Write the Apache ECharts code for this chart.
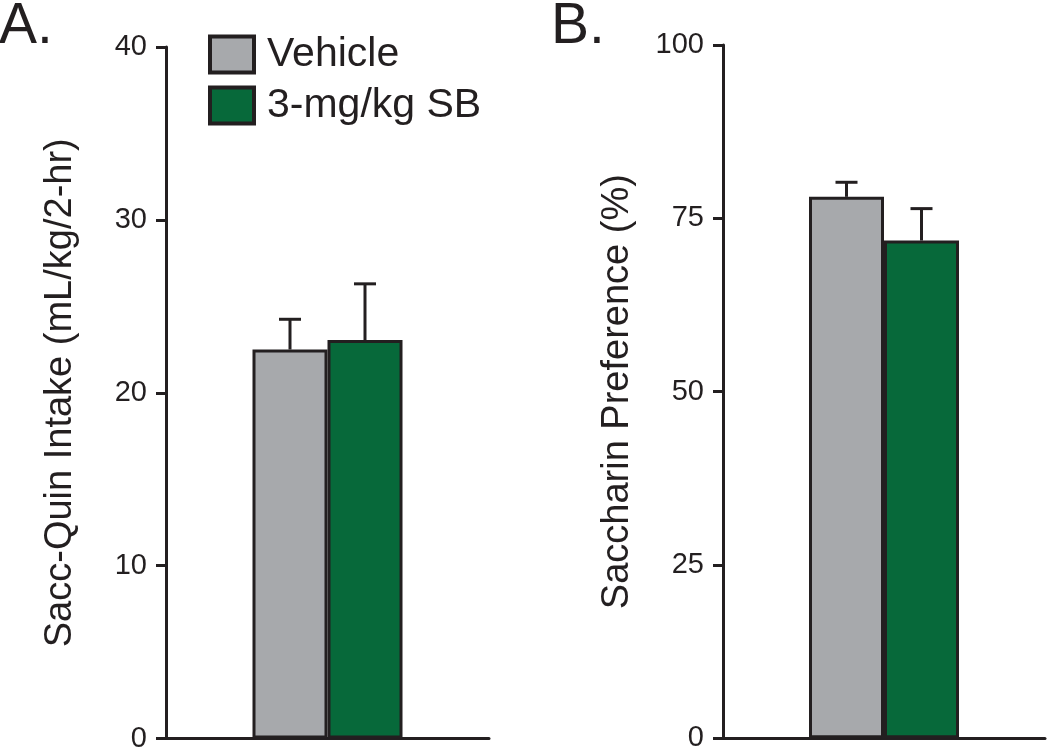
<!DOCTYPE html>
<html>
<head>
<meta charset="utf-8">
<script src="https://cdn.jsdelivr.net/npm/echarts@6/dist/echarts.min.js"></script>
<style>
html,body{margin:0;padding:0;background:#fff;}
#chart{width:1050px;height:753px;}
</style>
</head>
<body>
<div id="chart"></div>
<script>
// ---- data ----
const categories = [''];
const seriesNames = ['Vehicle', '3-mg/kg SB'];
// Panel A: Sacc-Quin intake (mL/kg/2-hr)
const intakeVehicle = [22.5];
const intakeVehicleSEM = [1.75];
const intakeSB = [23.05];
const intakeSBSEM = [3.25];
// Panel B: Saccharin preference (%)
const prefVehicle = [78.1];
const prefVehicleSEM = [2.1];
const prefSB = [71.8];
const prefSBSEM = [4.6];
const intakeTicks = {min: 0, max: 40, interval: 10};
const prefTicks = {min: 0, max: 100, interval: 25};

// ---- style ----
const FONT = 'Liberation Sans, Arial, Helvetica, sans-serif';
const INK = '#231f20';
const GRAY = '#a7a9ac';
const GREEN = '#07693a';
const BAR_W = 75;

const chart = echarts.init(document.getElementById('chart'), null, {renderer: 'canvas'});

function yAxis(gridIndex, ticks, name) {
  return {
    type: 'value', gridIndex: gridIndex,
    min: ticks.min, max: ticks.max, interval: ticks.interval,
    name: name, nameLocation: 'middle', nameGap: 86,
    nameTextStyle: {fontFamily: FONT, fontSize: 38, color: INK},
    axisLine: {show: true, lineStyle: {color: INK, width: 3}},
    axisTick: {show: true, length: 10, lineStyle: {color: INK, width: 3}},
    axisLabel: {fontFamily: FONT, fontSize: 29, color: INK, margin: 19},
    splitLine: {show: false}
  };
}
function xAxis(gridIndex) {
  return {
    type: 'category', gridIndex: gridIndex, data: categories,
    axisLine: {show: true, lineStyle: {color: INK, width: 3}},
    axisTick: {show: false}, axisLabel: {show: false}, splitLine: {show: false}
  };
}
function bar(name, data, color, axisIdx) {
  return {
    name: name, type: 'bar', xAxisIndex: axisIdx, yAxisIndex: axisIdx,
    data: data, barWidth: BAR_W, barGap: '0%',
    itemStyle: {color: color, borderColor: INK, borderWidth: 3},
    emphasis: {disabled: true}, z: 2
  };
}
function errBar(means, sems, offset, axisIdx) {
  return {
    type: 'custom', xAxisIndex: axisIdx, yAxisIndex: axisIdx,
    data: means.map((m, i) => [i, m, m + sems[i]]),
    z: 3, silent: true,
    renderItem: function (params, api) {
      const base = api.coord([api.value(0), api.value(1)]);
      const top = api.coord([api.value(0), api.value(2)]);
      const x = base[0] + offset;
      const st = {stroke: INK, lineWidth: 3};
      return {type: 'group', children: [
        {type: 'line', shape: {x1: x, y1: base[1], x2: x, y2: top[1]}, style: st},
        {type: 'line', shape: {x1: x - 11, y1: top[1], x2: x + 11, y2: top[1]}, style: st}
      ]};
    }
  };
}

chart.setOption({
  animation: false,
  backgroundColor: '#fff',
  title: [
    {text: 'A.', left: -1, top: -1, padding: 0, textStyle: {fontFamily: FONT, fontSize: 57, fontWeight: 'normal', color: INK}},
    {text: 'B.', left: 551, top: -1, padding: 0, textStyle: {fontFamily: FONT, fontSize: 57, fontWeight: 'normal', color: INK}}
  ],
  legend: {
    orient: 'vertical', left: 208, top: 34, itemGap: 10, padding: 0,
    itemWidth: 44, itemHeight: 36, selectedMode: false,
    icon: 'rect',
    data: seriesNames,
    textStyle: {fontFamily: FONT, fontSize: 41, color: INK, lineHeight: 40, padding: [0, 0, 0, 8]},
    itemStyle: {borderColor: INK, borderWidth: 4}
  },
  grid: [
    {left: 166, top: 47, width: 323, height: 695.5},
    {left: 723, top: 45, width: 322, height: 693.3}
  ],
  xAxis: [xAxis(0), xAxis(1)],
  yAxis: [
    yAxis(0, intakeTicks, 'Sacc-Quin Intake (mL/kg/2-hr)'),
    yAxis(1, prefTicks, 'Saccharin Preference (%)')
  ],
  series: [
    bar(seriesNames[0], intakeVehicle, GRAY, 0),
    bar(seriesNames[1], intakeSB, GREEN, 0),
    errBar(intakeVehicle, intakeVehicleSEM, -BAR_W / 2, 0),
    errBar(intakeSB, intakeSBSEM, BAR_W / 2, 0),
    bar(seriesNames[0], prefVehicle, GRAY, 1),
    bar(seriesNames[1], prefSB, GREEN, 1),
    errBar(prefVehicle, prefVehicleSEM, -BAR_W / 2, 1),
    errBar(prefSB, prefSBSEM, BAR_W / 2, 1)
  ]
});
</script>
</body>
</html>
